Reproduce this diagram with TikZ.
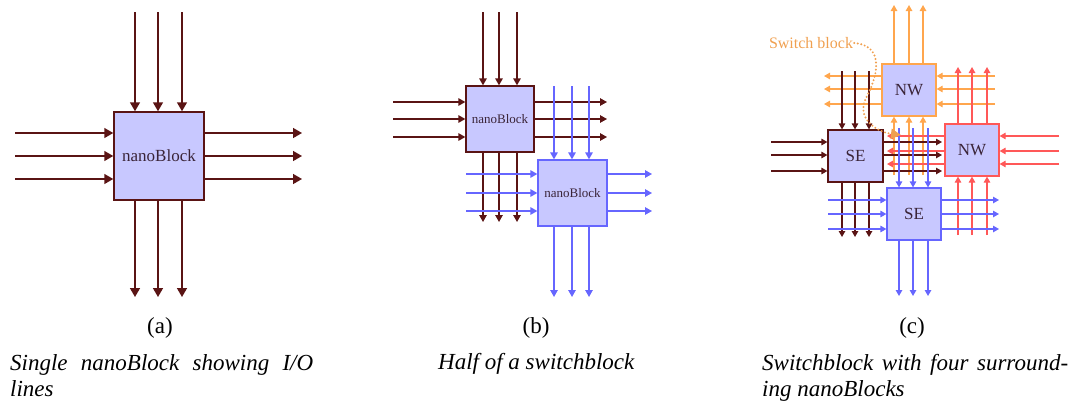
\documentclass[tikz,border=0pt]{standalone}
\usepackage{fontspec}
\setmainfont{Liberation Serif}
\usetikzlibrary{arrows.meta}
\definecolor{dk}{HTML}{5A1414}
\definecolor{bl}{HTML}{6666FF}
\definecolor{orn}{HTML}{FFA64D}
\definecolor{rd}{HTML}{FF5858}
\definecolor{nbfill}{HTML}{C8C8FF}
\definecolor{nbtext}{HTML}{3A2438}
\definecolor{lbl}{HTML}{F0A050}
\tikzset{
  blk/.style={draw, fill=nbfill, inner sep=0pt, text=nbtext},
  arA/.style={-{Triangle[length=9pt,width=10pt]}, line width=1.5pt, dk},
  arB/.style={-{Triangle[length=7pt,width=7.5pt]}, line width=1.3pt},
  arC/.style={-{Triangle[length=6pt,width=6.5pt]}, line width=1.2pt},
  captxt/.style={font=\fontsize{23}{26}\selectfont\itshape, inner sep=0pt},
  subtxt/.style={font=\fontsize{23}{26}\selectfont, inner sep=0pt}
}
\begin{document}
\begin{tikzpicture}[x=1pt,y=-1pt]
\useasboundingbox (0,0) rectangle (1070,402);
% ---------------- (a)
\node[blk, draw=dk, line width=1.5pt, minimum width=90pt, minimum height=88pt,
  font=\fontsize{17}{20}\selectfont] (A) at (159,156) {nanoBlock};
\foreach \x in {135,158,182}{
  \draw[arA] (\x,12) -- (\x,0 |- A.north);
  \draw[arA] (\x,0 |- A.south) -- (\x,297);
}
\foreach \y in {133,156,179}{
  \draw[arA] (15,\y) -- (A.west |- 0,\y);
  \draw[arA] (A.east |- 0,\y) -- (302,\y);
}
% ---------------- (b)
\node[blk, draw=dk, line width=1.3pt, minimum width=68pt, minimum height=66pt,
  font=\fontsize{13}{15}\selectfont] (B1) at (500,119) {nanoBlock};
\node[blk, draw=bl, line width=1.3pt, minimum width=69pt, minimum height=66pt,
  font=\fontsize{13}{15}\selectfont] (B2) at (572.5,193) {nanoBlock};
\foreach \x in {483,499,517}{
  \draw[arB, dk] (\x,12) -- (\x,0 |- B1.north);
  \draw[arB, dk] (\x,0 |- B1.south) -- (\x,222);
}
\foreach \y in {102,119,137}{
  \draw[arB, dk] (393,\y) -- (B1.west |- 0,\y);
  \draw[arB, dk] (B1.east |- 0,\y) -- (607,\y);
}
\foreach \x in {554,572,589}{
  \draw[arB, bl] (\x,86) -- (\x,0 |- B2.north);
  \draw[arB, bl] (\x,0 |- B2.south) -- (\x,297);
}
\foreach \y in {174,193,211}{
  \draw[arB, bl] (466,\y) -- (B2.west |- 0,\y);
  \draw[arB, bl] (B2.east |- 0,\y) -- (652,\y);
}
% ---------------- (c)
\tikzset{cbox/.style={blk, line width=1.2pt, minimum width=54pt, minimum height=52pt,
  font=\fontsize{17}{19}\selectfont}}
\node[cbox, draw=orn] (NWo) at (909,90) {NW};
\node[cbox, draw=dk, minimum width=55pt] (SEd) at (855.5,156) {SE};
\node[cbox, draw=rd] (NWr) at (972,150) {NW};
\node[cbox, draw=bl] (SEb) at (914,214) {SE};
% orange
\foreach \x in {894,909,923}{
  \draw[arC, orn] (\x,0 |- NWo.north) -- (\x,5);
  \draw[arC, orn] (\x,175) -- (\x,0 |- NWo.south);
}
\foreach \y in {76,89,104}{
  \draw[arC, orn] (NWo.west |- 0,\y) -- (824,\y);
  \draw[arC, orn] (995,\y) -- (NWo.east |- 0,\y);
}
% red
\foreach \x in {958,972,987}{
  \draw[arC, rd] (\x,0 |- NWr.north) -- (\x,67);
  \draw[arC, rd] (\x,235) -- (\x,0 |- NWr.south);
}
\foreach \y in {136,151,164}{
  \draw[arC, rd] (1059,\y) -- (NWr.east |- 0,\y);
  \draw[arC, rd] (NWr.west |- 0,\y) -- (887,\y);
}
% dark
\foreach \x in {842,855,869}{
  \draw[arC, dk] (\x,71) -- (\x,0 |- SEd.north);
  \draw[arC, dk] (\x,0 |- SEd.south) -- (\x,237);
}
\foreach \y in {142,155,171}{
  \draw[arC, dk] (771,\y) -- (SEd.west |- 0,\y);
  \draw[arC, dk] (SEd.east |- 0,\y) -- (942,\y);
}
% blue
\foreach \x in {899,913,928}{
  \draw[arC, bl] (\x,128) -- (\x,0 |- SEb.north);
  \draw[arC, bl] (\x,0 |- SEb.south) -- (\x,296);
}
\foreach \y in {200,214,229}{
  \draw[arC, bl] (828,\y) -- (SEb.west |- 0,\y);
  \draw[arC, bl] (SEb.east |- 0,\y) -- (999,\y);
}
% switch block label
\node[text=lbl, font=\fontsize{16}{18}\selectfont, inner sep=1pt] (sw) at (811,43) {Switch block};
\coordinate (swtip) at (901,135);
\draw[lbl, line width=2.2pt, dash pattern=on 0pt off 3.6pt, line cap=round,
  -{Triangle[length=10pt,width=10pt]}]
  (sw.east) .. controls (880,45) and (882,68) .. (866,98)
  .. controls (856,118) and (876,132) .. (swtip);
% ---------------- captions
\node[subtxt] (la) at (160,328) {(a)};
\node[subtxt] (lb) at (536,328) {(b)};
\node[subtxt] (lc) at (912,328) {(c)};
\node[captxt, anchor=base west] (ta1) at (10,370) {\makebox[303pt][s]{Single nanoBlock showing I/O}};
\node[captxt, anchor=base west] (ta2) at (10,396) {lines};
\node[captxt, anchor=base west] (tb1) at (438,369) {Half of a switchblock};
\node[captxt, anchor=base west] (tc1) at (762,370) {\makebox[306pt][s]{Switchblock with four surround-}};
\node[captxt, anchor=base west] (tc2) at (762,396) {ing nanoBlocks};
\end{tikzpicture}
\end{document}
